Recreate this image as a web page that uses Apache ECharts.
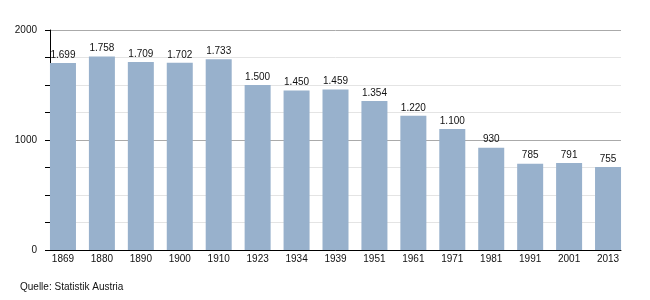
<!DOCTYPE html>
<html>
<head>
<meta charset="utf-8">
<script src="https://cdn.jsdelivr.net/npm/echarts@6/dist/echarts.min.js"></script>
<style>
html,body{margin:0;padding:0;background:#fff;}
#c{width:650px;height:300px;}
</style>
</head>
<body>
<div id="c"></div>
<script>
const categories = ['1869','1880','1890','1900','1910','1923','1934','1939','1951','1961','1971','1981','1991','2001','2013'];
const population = [1699,1758,1709,1702,1733,1500,1450,1459,1354,1220,1100,930,785,791,755];
const yTickLabels = [0, 1000, 2000];
const sourceText = 'Quelle: Statistik Austria';

function deFmt(v){
  if (v >= 1000) {
    const r = v % 1000;
    return Math.floor(v/1000) + '.' + String(r).padStart(3,'0');
  }
  return String(v);
}

const FONT = 'Liberation Sans, Arial, sans-serif';
const chart = echarts.init(document.getElementById('c'), null, {renderer:'canvas'});
chart.setOption({
  animation: false,
  backgroundColor: '#fff',
  grid: [
    {left: 50, right: 29, top: 30, bottom: 50},
    {left: 43.5, right: 22.5, top: 30, bottom: 50}
  ],
  title: {
    text: sourceText, left: 20, top: 282, padding: 0,
    textStyle: {fontFamily: FONT, fontSize: 10, fontWeight: 'normal', color: '#111'}
  },
  xAxis: [
    {type: 'category', gridIndex: 0, data: categories,
     axisLine: {show: true, lineStyle: {color: '#000', width: 1}},
     axisTick: {show: false}, axisLabel: {show: false}, splitLine: {show: false}},
    {type: 'category', gridIndex: 1, data: categories,
     axisLine: {show: false}, axisTick: {show: false},
     axisLabel: {fontFamily: FONT, fontSize: 10, color: '#111', margin: 4}}
  ],
  yAxis: [
    {type: 'value', gridIndex: 0, min: 0, max: 2000, interval: 250,
     axisLine: {show: true, lineStyle: {color: '#000', width: 1}},
     axisTick: {show: true, length: 5, lineStyle: {color: '#000'}},
     axisLabel: {fontFamily: FONT, fontSize: 10, color: '#111', margin: 13,
       formatter: v => yTickLabels.indexOf(v) >= 0 ? String(v) : ''},
     splitLine: {show: true, lineStyle: {color: ['#aaaaaa','#e4e4e4','#e4e4e4','#e4e4e4'], width: 1}}},
    {type: 'value', gridIndex: 1, min: 0, max: 2000, show: false, splitLine: {show: false}}
  ],
  series: [{
    type: 'bar', xAxisIndex: 1, yAxisIndex: 1,
    data: population, barWidth: 26,
    itemStyle: {color: '#98b1cc'},
    label: {show: true, position: 'top', distance: 3,
      fontFamily: FONT, fontSize: 10, color: '#111',
      formatter: p => deFmt(p.value)}
  }]
});
</script>
</body>
</html>
